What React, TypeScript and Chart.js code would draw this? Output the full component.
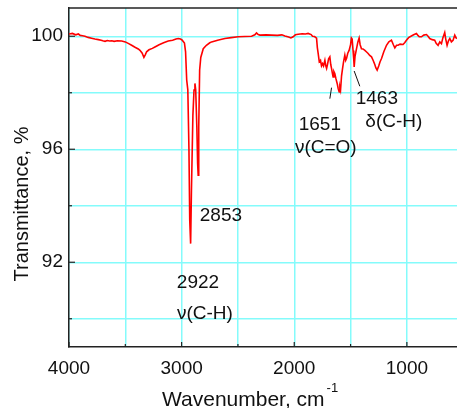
import { useEffect, useRef } from "react";
import { Chart, registerables } from "chart.js";

Chart.register(...registerables);

// ---- Data ----
const wavenumbers = [
  4000, 3970, 3940, 3917, 3900, 3880, 3858, 3830, 3800, 3770, 3740, 3715, 3700, 3680, 3660, 3640, 3620, 3600,
  3570, 3532, 3500, 3470, 3444, 3410, 3385, 3370, 3350, 3335, 3322, 3311, 3290, 3260, 3237, 3200, 3160, 3119,
  3080, 3050, 3030, 3010, 2995, 2975, 2965, 2955, 2945, 2935, 2928, 2920, 2913, 2900, 2890, 2882, 2875, 2865,
  2858, 2853, 2848, 2840, 2830, 2808, 2780, 2750, 2734, 2680, 2616, 2560, 2498, 2440, 2379, 2350, 2335, 2320,
  2305, 2250, 2201, 2150, 2110, 2083, 2050, 2030, 2010, 1990, 1965, 1930, 1900, 1877, 1850, 1838, 1820, 1802,
  1795, 1788, 1778, 1767, 1758, 1749, 1740, 1728, 1720, 1713, 1705, 1695, 1684, 1676, 1669, 1662, 1655, 1648,
  1640, 1630, 1619, 1610, 1601, 1595, 1589, 1580, 1571, 1562, 1551, 1543, 1536, 1525, 1513, 1500, 1493, 1486,
  1478, 1472, 1468, 1460, 1447, 1435, 1424, 1415, 1403, 1390, 1373, 1360, 1344, 1330, 1314, 1300, 1285, 1275,
  1264, 1250, 1238, 1225, 1205, 1181, 1160, 1137, 1120, 1107, 1092, 1078, 1060, 1034, 1018, 1004, 985, 960,
  940, 915, 900, 890, 871, 850, 826, 812, 797, 775, 753, 740, 723, 708, 693, 680, 664, 655, 643, 630, 619, 605,
  590, 575, 565, 555,
];
const transmittance = [
  100.08, 100.1, 100.05, 100.08, 100.03, 100.02, 100.0, 99.96, 99.93, 99.9, 99.88, 99.86, 99.84, 99.82, 99.85,
  99.83, 99.84, 99.82, 99.84, 99.83, 99.8, 99.74, 99.68, 99.6, 99.55, 99.5, 99.4, 99.25, 99.35, 99.45, 99.52,
  99.57, 99.62, 99.7, 99.77, 99.83, 99.86, 99.9, 99.92, 99.9, 99.86, 99.76, 99.45, 98.45, 98.1, 96.0, 93.5,
  92.66, 94.5, 97.2, 98.1, 98.33, 98.1, 96.8, 95.5, 95.08, 96.8, 98.8, 99.25, 99.56, 99.68, 99.77, 99.8,
  99.86, 99.92, 99.95, 99.98, 99.99, 100.0, 100.05, 100.12, 100.06, 100.04, 100.05, 100.04, 100.03, 100.05,
  100.01, 99.97, 99.94, 99.98, 100.05, 100.07, 100.09, 100.08, 100.1, 100.06, 100.0, 99.99, 99.93, 99.6,
  99.4, 99.1, 99.15, 98.95, 99.03, 98.95, 99.15, 98.95, 98.86, 99.0, 99.2, 99.27, 99.0, 98.86, 98.7, 98.56,
  98.75, 98.68, 98.5, 98.33, 98.15, 98.03, 98.2, 98.1, 98.6, 98.86, 99.1, 99.33, 99.15, 99.21, 99.4, 99.5,
  99.7, 99.94, 99.9, 99.5, 99.2, 98.91, 99.3, 99.56, 99.8, 99.94, 99.7, 99.56, 99.55, 99.5, 99.45, 99.39,
  99.32, 99.27, 99.15, 99.0, 98.88, 98.8, 98.95, 99.1, 99.21, 99.45, 99.68, 99.8, 99.86, 99.7, 99.59, 99.68,
  99.68, 99.72, 99.71, 99.78, 99.86, 99.95, 100.01, 100.05, 100.1, 100.02, 99.98, 99.98, 100.04, 100.06,
  100.0, 99.92, 99.88, 99.86, 99.75, 99.68, 99.8, 99.74, 99.95, 100.13, 99.9, 99.68, 99.85, 99.92, 99.8,
  99.86, 100.04, 99.95, 99.92,
];

const xTickValues = [4000, 3500, 3000, 2500, 2000, 1500, 1000];
const xTickLabels = [4000, 3000, 2000, 1000];
const yTickValues = [90, 92, 94, 96, 98, 100];
const yTickLabels = [92, 96, 100];

const annotationTexts = ["2853", "2922", "ν(C-H)", "1651", "ν(C=O)", "1463", "δ(C-H)"];
const annotationX = [2651, 2855, 2793, 1773, 1720, 1267, 1116];
const annotationY = [93.66, 91.29, 90.16, 96.85, 96.07, 97.77, 96.96];

const leaderX1 = [1669, 1468];
const leaderY1 = [98.18, 98.77];
const leaderX2 = [1684, 1418];
const leaderY2 = [97.79, 98.23];

const yTitle = "Transmittance, %";
const xTitle = "Wavenumber, cm";
const xTitleSup = "-1";

// ---- Styles ----
const FONT = "'Liberation Sans', Arial, sans-serif";
const AXIS_COLOR = "#222";
const GRID_COLOR = "#84fbfb";

const decorPlugin = {
  id: "decor",
  afterDraw(chart: any) {
    const { ctx, chartArea } = chart;
    const { left, right, top, bottom } = chartArea;
    const xs = chart.scales.x;
    const ys = chart.scales.y;
    ctx.save();
    // top frame
    ctx.strokeStyle = AXIS_COLOR;
    ctx.lineWidth = 1.5;
    ctx.beginPath();
    ctx.moveTo(left, top);
    ctx.lineTo(right, top);
    ctx.stroke();
    // inner ticks
    ctx.lineWidth = 1.2;
    yTickValues.forEach((v) => {
      const py = ys.getPixelForValue(v);
      const len = yTickLabels.includes(v) ? 6 : 3;
      ctx.beginPath();
      ctx.moveTo(left, py);
      ctx.lineTo(left + len, py);
      ctx.stroke();
    });
    xTickValues.forEach((v) => {
      const px = xs.getPixelForValue(v);
      const len = xTickLabels.includes(v) ? 5 : 3;
      ctx.beginPath();
      ctx.moveTo(px, bottom);
      ctx.lineTo(px, bottom - len);
      ctx.stroke();
    });
    // annotations
    ctx.fillStyle = "#111";
    ctx.font = `19px ${FONT}`;
    ctx.textAlign = "center";
    ctx.textBaseline = "middle";
    annotationTexts.forEach((t, i) => {
      ctx.fillText(t, xs.getPixelForValue(annotationX[i]), ys.getPixelForValue(annotationY[i]));
    });
    ctx.strokeStyle = "#111";
    ctx.lineWidth = 1;
    leaderX1.forEach((_, i) => {
      ctx.beginPath();
      ctx.moveTo(xs.getPixelForValue(leaderX1[i]), ys.getPixelForValue(leaderY1[i]));
      ctx.lineTo(xs.getPixelForValue(leaderX2[i]), ys.getPixelForValue(leaderY2[i]));
      ctx.stroke();
    });
    // y title
    ctx.save();
    ctx.translate(22, 204);
    ctx.rotate(-Math.PI / 2);
    ctx.font = `20px ${FONT}`;
    ctx.textAlign = "center";
    ctx.textBaseline = "middle";
    ctx.fillText(yTitle, 0, 0);
    ctx.restore();
    // x title
    ctx.font = `21px ${FONT}`;
    ctx.textAlign = "left";
    ctx.textBaseline = "alphabetic";
    ctx.fillText(xTitle, 162, 406);
    const w = ctx.measureText(xTitle).width;
    ctx.font = `13px ${FONT}`;
    ctx.fillText(xTitleSup, 162 + w + 2, 392);
    ctx.restore();
  },
};

export default function App() {
  const ref = useRef<HTMLCanvasElement | null>(null);
  useEffect(() => {
    if (!ref.current) return;
    const points = wavenumbers.map((w, i) => ({ x: w, y: transmittance[i] }));
    const chart = new Chart(ref.current, {
      type: "line",
      data: {
        datasets: [
          {
            data: points,
            borderColor: "#ff0000",
            borderWidth: 1.6,
            pointRadius: 0,
            tension: 0,
            fill: false,
          },
        ],
      },
      options: {
        animation: false,
        responsive: false,
        layout: { padding: { top: 8, right: 0, left: 0, bottom: 0 } },
        plugins: { legend: { display: false }, tooltip: { enabled: false } },
        scales: {
          x: {
            type: "linear",
            reverse: true,
            min: 555,
            max: 4000,
            afterBuildTicks: (s: any) => {
              s.ticks = xTickValues.map((v) => ({ value: v }));
            },
            afterFit: (s: any) => {
              s.height = 61;
              s.paddingLeft = 0;
              s.paddingRight = 0;
            },
            grid: { color: GRID_COLOR, lineWidth: 1.5, drawTicks: false },
            border: { display: true, color: AXIS_COLOR, width: 1.5 },
            ticks: {
              padding: 10,
              maxRotation: 0,
              autoSkip: false,
              color: "#111",
              font: { family: FONT, size: 19 },
              callback: (v: any) => (xTickLabels.includes(Number(v)) ? String(v) : ""),
            },
          },
          y: {
            type: "linear",
            min: 89,
            max: 101,
            afterBuildTicks: (s: any) => {
              s.ticks = yTickValues.map((v) => ({ value: v }));
            },
            afterFit: (s: any) => {
              s.width = 69;
              s.paddingTop = 0;
              s.paddingBottom = 0;
            },
            grid: { color: GRID_COLOR, lineWidth: 1.5, drawTicks: false },
            border: { display: true, color: AXIS_COLOR, width: 1.5 },
            ticks: {
              padding: 6,
              autoSkip: false,
              color: "#111",
              font: { family: FONT, size: 19 },
              callback: (v: any) => (yTickLabels.includes(Number(v)) ? String(v) : ""),
            },
          },
        },
      },
      plugins: [decorPlugin],
    });
    return () => chart.destroy();
  }, []);
  return (
    <div style={{ position: "fixed", left: 0, top: 0, width: 457, height: 408, background: "#fff" }}>
      <canvas ref={ref} width={457} height={408} style={{ display: "block" }} />
    </div>
  );
}
